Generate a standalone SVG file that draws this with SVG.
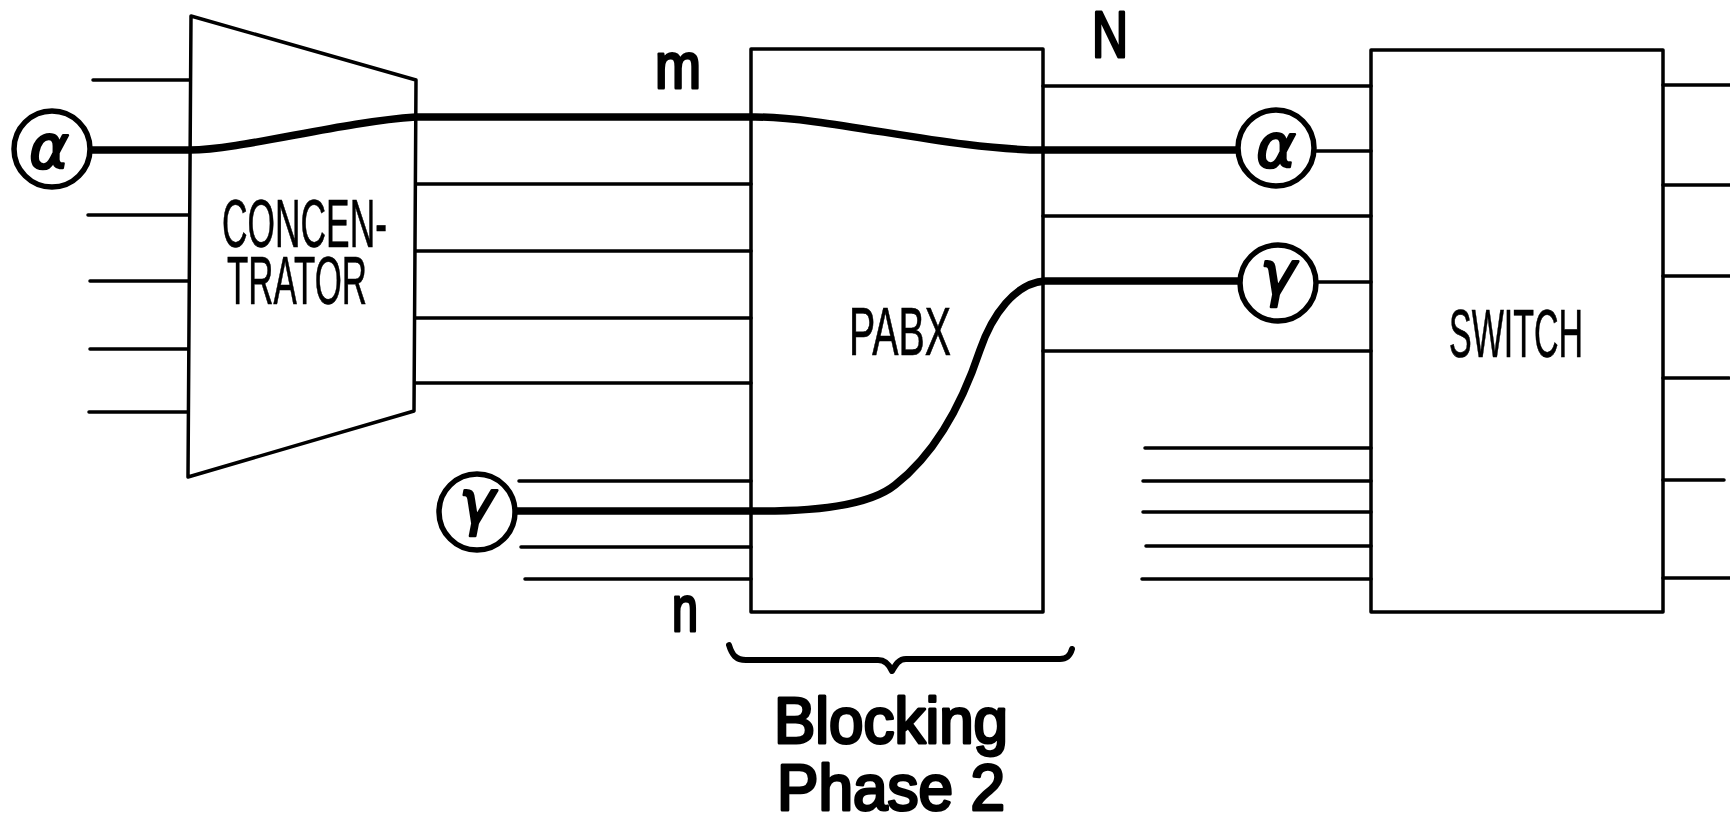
<svg xmlns="http://www.w3.org/2000/svg" width="1730" height="819" viewBox="0 0 1730 819">
<style>
.line{fill:none;stroke:#000;stroke-width:3.5;stroke-linecap:round}
.thick{fill:none;stroke:#000;stroke-width:7.5;stroke-linecap:round;stroke-linejoin:round}
.box{fill:#fff;stroke:#000;stroke-width:3.5;stroke-linejoin:round}
.ring{fill:#fff;stroke:#000;stroke-width:5.5}
.cond{font-family:"Liberation Sans",Arial,sans-serif;font-size:68px;fill:#000;stroke:#000;stroke-width:.7}
.bold{font-family:"Liberation Sans",Arial,sans-serif;font-size:64px;fill:#000;stroke:#000;stroke-width:3;stroke-linejoin:round}
.greek{font-family:"DejaVu Sans",sans-serif;font-style:italic;font-size:60px;text-anchor:middle;fill:#000;stroke:#000;stroke-width:2.5;stroke-linejoin:round}
</style>
<rect width="1730" height="819" fill="#fff"/>
<g id="concentrator">
<path class="box" d="M191 16L416 80L414 411L188 477Z"/>
<text class="cond" x="222" y="247" textLength="165" lengthAdjust="spacingAndGlyphs">CONCEN-</text>
<text class="cond" x="227" y="304" textLength="140" lengthAdjust="spacingAndGlyphs">TRATOR</text>
</g>
<g id="pabx">
<rect class="box" x="751" y="49" width="292" height="563"/>
<text class="cond" x="849" y="355" textLength="102" lengthAdjust="spacingAndGlyphs">PABX</text>
</g>
<g id="switch">
<rect class="box" x="1371" y="50" width="292" height="562"/>
<text class="cond" x="1449" y="357" textLength="134" lengthAdjust="spacingAndGlyphs">SWITCH</text>
</g>
<g id="connectors">
<path class="line" d="M93 80H190M88 215H189M90 281H189M90 349H188M89 412H188"/>
<path class="line" d="M416 184H751M416 251H751M416 318H751M416 383H751"/>
<path class="line" d="M519 481H751M521 547H751M525 579H751"/>
<path class="line" d="M1043 86H1371M1043 216H1371M1043 351H1371M1315 151H1371M1316 282H1371"/>
<path class="line" d="M1145 448H1371M1143 481H1371M1143 512H1371M1146 546H1371M1142 579H1371"/>
<path class="line" d="M1663 85H1730M1663 185H1730M1663 276H1730M1663 378H1729M1663 480H1724M1663 578H1730"/>
<path class="thick" d="M90 150H190C240 150 340 122 416 117H755C830 117 950 150 1043 150H1238"/>
<path class="thick" d="M516 511H751C820 512 870 505 895 485C940 450 965 395 980 350C992 315 1015 283 1045 281H1240"/>
</g>
<g id="alpha-left"><ellipse class="ring" cx="52" cy="149" rx="38" ry="38"/><text class="greek" x="49" y="168">α</text></g>
<g id="gamma-left"><ellipse class="ring" cx="477" cy="512" rx="38" ry="38"/><text class="greek" x="477" y="523">γ</text></g>
<g id="alpha-right"><ellipse class="ring" cx="1276" cy="148" rx="38" ry="38"/><text class="greek" x="1276" y="167">α</text></g>
<g id="gamma-right"><ellipse class="ring" cx="1278" cy="283" rx="38" ry="38"/><text class="greek" x="1278" y="294">γ</text></g>
<g id="labels">
<text class="bold" x="655" y="88" textLength="46" lengthAdjust="spacingAndGlyphs">m</text>
<text class="bold" x="1092" y="57" textLength="36" lengthAdjust="spacingAndGlyphs">N</text>
<text class="bold" x="672" y="631" textLength="26" lengthAdjust="spacingAndGlyphs">n</text>
<path class="thick" style="stroke-width:6" d="M729 645C732 655 736 660 746 660H878C885 660 889 664 892 671C896 664 899 659 906 659H1060C1067 659 1070 656 1072 649"/>
<text class="bold" x="774" y="743" textLength="234" lengthAdjust="spacingAndGlyphs">Blocking</text>
<text class="bold" x="777" y="810" textLength="228" lengthAdjust="spacingAndGlyphs">Phase 2</text>
</g>
</svg>
